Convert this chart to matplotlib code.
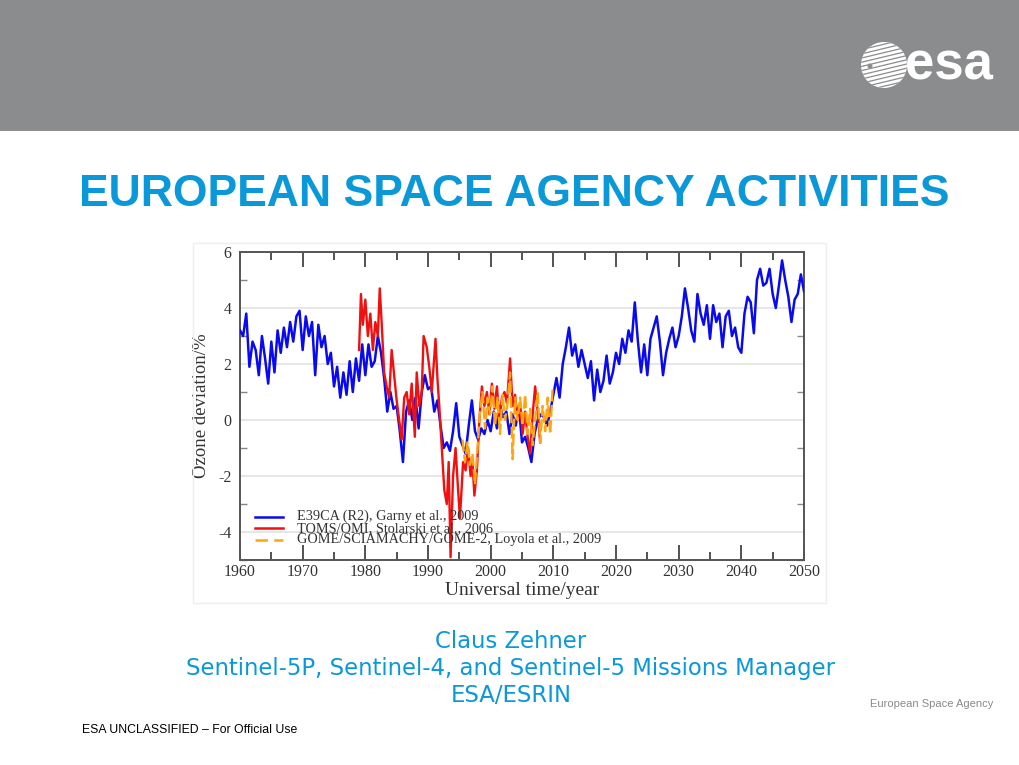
import numpy as np
import matplotlib
matplotlib.use("Agg")
import matplotlib.pyplot as plt
from matplotlib.patches import Rectangle, Ellipse
from matplotlib.lines import Line2D

plt.rcParams['axes.unicode_minus'] = False

# E39CA (R2) model run, half-year samples 1960..2050
e39ca_years = np.arange(1960, 2050.01, 0.5)
e39ca_vals = [
    3.2, 3.0, 3.8, 1.9, 2.8, 2.5, 1.6, 3.0, 2.2, 1.3,   # 1960-1964.5
    2.8, 1.7, 3.2, 2.4, 3.3, 2.6, 3.5, 2.8, 3.7, 3.9,   # 1965-1969.5
    2.5, 3.7, 3.0, 3.5, 1.6, 3.4, 2.6, 3.0, 2.0, 2.4,   # 1970-1974.5
    1.2, 1.9, 0.8, 1.7, 0.9, 2.1, 1.0, 2.2, 1.4, 2.7,   # 1975-1979.5
    1.6, 2.7, 1.9, 2.1, 3.0, 2.4, 1.5, 0.3, 1.0, 0.4,   # 1980-1984.5
    0.5, -0.4, -1.5, 0.3, 0.7, 0.0, 0.8, -0.3, 1.0, 1.6,  # 1985-1989.5
    1.1, 1.2, 0.3, 0.7, -0.2, -1.0, -0.8, -1.1, -0.4, 0.6,  # 1990-1994.5
    -0.6, -0.9, -1.2, -0.2, 0.7, -0.4, -0.7, -0.3, -0.5, 0.0,  # 1995-1999.5
    -0.4, 0.3, -0.3, 0.5, 0.1, 0.3, -0.5, 0.2, -0.2, 0.5,  # 2000-2004.5
    -0.8, -0.6, -1.0, -1.5, -0.5, 0.0, 0.2, 0.1, -0.2, 0.3,  # 2005-2009.5
    0.9, 1.5, 0.8, 2.0, 2.6, 3.3, 2.3, 2.7, 1.9, 2.5,   # 2010-2014.5
    2.0, 1.5, 2.1, 0.7, 1.8, 1.0, 1.4, 2.3, 1.3, 1.7,   # 2015-2019.5
    2.4, 2.0, 2.9, 2.4, 3.2, 2.8, 4.2, 2.8, 1.7, 2.7,   # 2020-2024.5
    1.6, 2.9, 3.3, 3.7, 2.8, 1.6, 2.4, 2.9, 3.3, 2.6,   # 2025-2029.5
    3.0, 3.7, 4.7, 4.0, 3.2, 2.8, 4.5, 3.8, 3.4, 4.1,   # 2030-2034.5
    2.9, 4.1, 3.5, 3.8, 2.6, 3.7, 3.9, 3.0, 3.3, 2.6,   # 2035-2039.5
    2.4, 3.8, 4.4, 4.2, 3.1, 5.0, 5.4, 4.8, 4.9, 5.4,   # 2040-2044.5
    4.5, 4.0, 4.8, 5.7, 5.0, 4.4, 3.5, 4.3, 4.5, 5.2,   # 2045-2049.5
    4.6,                                                # 2050
]

# TOMS/OMI observations
toms_years = [
    1979.0, 1979.3, 1979.6, 1980.0, 1980.4, 1980.8, 1981.2, 1981.6, 1982.0, 1982.3,
    1982.6, 1983.0, 1983.4, 1983.8, 1984.2, 1984.6, 1985.0, 1985.4, 1985.8, 1986.2,
    1986.6, 1987.0, 1987.4, 1987.9, 1988.2, 1988.6, 1989.0, 1989.3, 1989.8, 1990.2,
    1990.6, 1991.2, 1991.5, 1991.8, 1992.2, 1992.6, 1993.0, 1993.3, 1993.6, 1994.0,
    1994.4, 1994.8, 1995.1, 1995.6, 1996.0, 1996.4, 1996.8, 1997.1, 1997.4, 1997.8,
    1998.2, 1998.6, 1999.0, 1999.4, 1999.8, 2000.2, 2000.6, 2001.0, 2001.4, 2001.8,
    2002.2, 2002.6, 2003.1, 2003.5, 2003.9, 2004.3, 2004.7, 2005.1, 2005.5, 2005.9,
    2006.3, 2006.7, 2007.1, 2007.5, 2007.9,
]
toms_vals = [
    2.5, 4.5, 3.4, 4.3, 3.0, 3.8, 2.5, 3.5, 3.0, 4.7,
    3.5, 1.7, 1.2, 0.8, 2.5, 1.6, 0.7, 0.0, -0.7, 0.8,
    1.0, 0.2, 1.3, -0.6, 1.7, 0.5, 1.0, 3.0, 2.6, 1.9,
    1.0, 2.9, 1.5, 0.5, -1.0, -2.5, -3.0, -1.5, -4.9, -2.0,
    -1.0, -2.5, -3.5, -1.5, -1.8, -1.0, -2.0, -1.5, -2.7, -1.8,
    0.0, 1.2, 0.5, 1.0, 0.2, 1.3, 0.4, 1.2, 0.0, 0.8,
    1.0, 0.6, 2.2, 0.5, 0.9, 0.0, 0.6, -0.5, 0.3, -0.6,
    -1.2, 0.2, 1.2, 0.3, -0.8,
]

# GOME/SCIAMACHY/GOME-2 merged record
gome_years = [
    1995.5, 1995.9, 1996.3, 1996.7, 1997.1, 1997.5, 1997.9, 1998.3, 1998.7, 1999.1,
    1999.5, 1999.9, 2000.3, 2000.7, 2001.1, 2001.5, 2001.9, 2002.3, 2002.7, 2003.1,
    2003.5, 2003.9, 2004.3, 2004.7, 2005.1, 2005.5, 2005.9, 2006.3, 2006.7, 2007.1,
    2007.5, 2007.9, 2008.3, 2008.7, 2009.1, 2009.5, 2009.9,
]
gome_vals = [
    -0.7, -1.5, -0.8, -1.6, -1.2, -2.3, -1.0, 0.3, 1.0, -0.3,
    0.8, 0.2, 1.2, -0.2, 0.8, -0.5, 0.9, 0.0, 0.6, 1.7,
    -1.4, 0.8, 0.0, 0.8, -0.2, 0.9, -0.5, 0.4, -0.9, 0.0,
    1.0, -0.8, 0.5, -0.4, 0.8, -0.5, 1.2,
]

legend_labels = [
    'E39CA (R2), Garny et al., 2009',
    'TOMS/OMI, Stolarski et al., 2006',
    'GOME/SCIAMACHY/GOME-2, Loyola et al., 2009',
]

esa_blue = '#0a98d8'
banner_grey = '#8b8c8e'
W, H = 1020, 765

fig = plt.figure(figsize=(10.2, 7.65), dpi=100)
fig.patch.set_facecolor('white')

# slide decoration: grey banner with the esa mark
fig.add_artist(Rectangle((0, 1 - 131 / H), 1, 131 / H, transform=fig.transFigure,
                         facecolor=banner_grey, edgecolor='none'))
globe = Ellipse((884 / W, 1 - 65 / H), 46 / W, 46 / H, transform=fig.transFigure,
                facecolor='white', edgecolor='none')
fig.add_artist(globe)
# grey stripes across the globe
for k in range(-5, 6):
    yy = 1 - (65 + k * 4.2) / H
    stripe = Line2D([860 / W, 910 / W], [yy - 6 / H, yy + 6 / H], transform=fig.transFigure,
                    color=banner_grey, lw=0.9)
    stripe.set_clip_path(globe)
    fig.add_artist(stripe)
fig.add_artist(Ellipse((870 / W, 1 - 66 / H), 5 / W, 5 / H, transform=fig.transFigure,
                       facecolor=banner_grey, edgecolor='none'))
fig.text(949 / W, 1 - 66 / H, 'esa', color='white', fontsize=38, fontweight='bold',
         family='Liberation Sans', ha='center', va='center')
fig.text(514 / W, 1 - 195 / H, 'EUROPEAN SPACE AGENCY ACTIVITIES', color=esa_blue,
         fontsize=32, fontweight='bold', family='Liberation Sans', ha='center', va='center')

# light frame of the chart picture
fig.add_artist(Rectangle((193 / W, 1 - 603 / H), 633 / W, 360 / H,
                         transform=fig.transFigure, facecolor='none',
                         edgecolor='#eeeeee', lw=1))

ax = fig.add_axes([240 / W, 1 - 560 / H, 564 / W, 308 / H])
ax.plot(e39ca_years, e39ca_vals, color='#0a0af0', lw=1.8, zorder=3)
ax.plot(toms_years, toms_vals, color='#f01010', lw=1.7, zorder=4)
ax.plot(gome_years, gome_vals, color='#ffa512', lw=1.7, dashes=(5, 1.5), zorder=5)

ax.set_xlim(1960, 2050)
ax.set_ylim(-5, 6)
ax.set_xticks(np.arange(1960, 2051, 10))
ax.set_xticks(np.arange(1965, 2050, 10), minor=True)
ax.set_yticks([-4, -2, 0, 2, 4, 6])
ax.set_yticks([-5, -3, -1, 1, 3, 5], minor=True)
ax.grid(axis='y', which='major', color='#e4e4e4', lw=1.3, zorder=0)

serif = 'Liberation Serif'
ax.tick_params(axis='x', which='both', direction='in', top=True, colors='#444444',
               labelcolor='#333333', labelsize=11.5, pad=3)
ax.tick_params(axis='x', which='major', length=11, width=1.3)
ax.tick_params(axis='x', which='minor', length=6, width=1.3)
ax.tick_params(axis='y', which='both', direction='in', right=True, colors='#888888',
               labelcolor='#333333', labelsize=11.5, pad=6)
ax.tick_params(axis='y', which='major', length=0)
ax.tick_params(axis='y', which='minor', length=5, width=1)
for lab in ax.get_xticklabels() + ax.get_yticklabels():
    lab.set_family(serif)
for s in ax.spines.values():
    s.set_color('#555555')
    s.set_linewidth(1.4)

ax.set_xlabel('Universal time/year', family=serif, fontsize=14, color='#333333', labelpad=1)
ax.set_ylabel('Ozone deviation/%', family=serif, fontsize=13.5, color='#333333', labelpad=6)

# legend keys drawn inside the axes (no frame)
key_colors = ['#0a0af0', '#f01010', '#ffa512']
key_y = [0.141, 0.103, 0.065]
for i, lab in enumerate(legend_labels):
    if i == 2:
        ax.plot([0.027, 0.076], [key_y[i], key_y[i]], transform=ax.transAxes,
                color=key_colors[i], lw=1.8, dashes=(5, 2.5), zorder=6)
    else:
        ax.plot([0.027, 0.076], [key_y[i], key_y[i]], transform=ax.transAxes,
                color=key_colors[i], lw=1.8, zorder=6)
    ax.text(0.101, key_y[i], lab, transform=ax.transAxes, family=serif, fontsize=10.3,
            color='#333333', va='center', ha='left', zorder=6)

# speaker block
for yy, txt in [(641, 'Claus Zehner'),
                (668, 'Sentinel-5P, Sentinel-4, and Sentinel-5 Missions Manager'),
                (695, 'ESA/ESRIN')]:
    fig.text(511 / W, 1 - yy / H, txt, color=esa_blue, fontsize=16.4,
             family='DejaVu Sans', ha='center', va='center')
fig.text(993 / W, 1 - 704 / H, 'European Space Agency', color='#8a8a8a', fontsize=8,
         family=['Liberation Sans Narrow', 'Liberation Sans'], ha='right', va='center')
fig.text(82 / W, 1 - 730 / H, 'ESA UNCLASSIFIED \u2013 For Official Use', color='black',
         fontsize=8.8, family='Liberation Sans', ha='left', va='center')

fig.savefig('out.png', dpi=100)
